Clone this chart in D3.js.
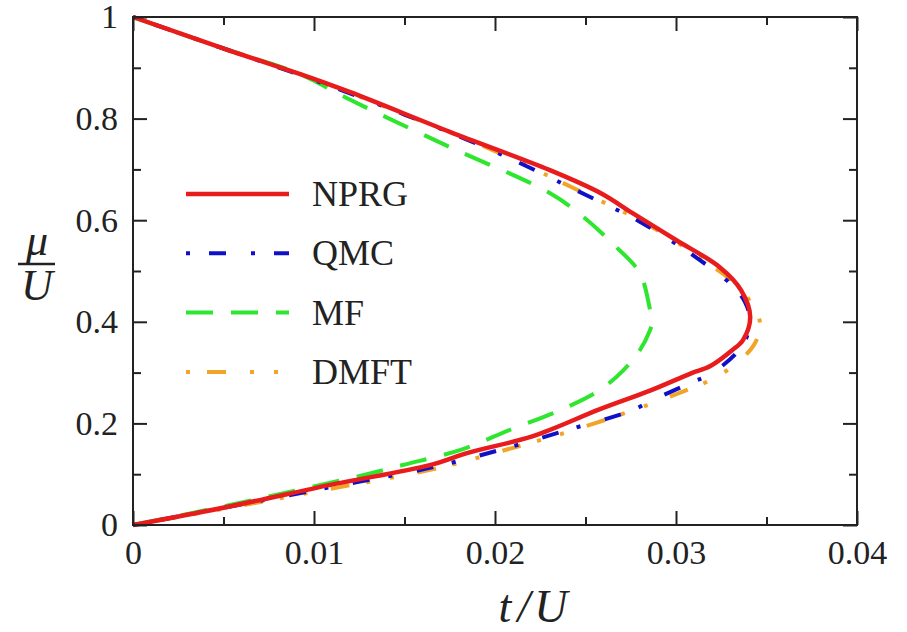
<!DOCTYPE html>
<html>
<head>
<meta charset="utf-8">
<script src="https://cdn.jsdelivr.net/npm/d3@7"></script>
<style>
  body { margin: 0; background: #fff; }
</style>
</head>
<body>
<svg id="chart" width="907" height="632"></svg>
<script>
// phase boundary data (t/U, mu/U)
let nprgT  = [0, 0.0055, 0.0092, 0.012, 0.0175, 0.023, 0.0258, 0.0276, 0.0300, 0.0324, 0.0336, 0.0341, 0.0337, 0.0331, 0.0319, 0.0308, 0.0286, 0.0258, 0.0221, 0.0185, 0.0164, 0.0109, 0.0054, 0];
let nprgMu = [1, 0.932, 0.888, 0.852, 0.774, 0.699, 0.654, 0.614, 0.561, 0.508, 0.462, 0.41, 0.364, 0.344, 0.313, 0.298, 0.265, 0.228, 0.175, 0.142, 0.118, 0.079, 0.037, 0];

let qmcT  = [0, 0.005, 0.01, 0.015, 0.02, 0.025, 0.028, 0.0313, 0.033, 0.0338, 0.0341, 0.0336, 0.032, 0.0309, 0.0287, 0.0276, 0.024, 0.0203, 0.0166, 0.011, 0.005, 0];
let qmcMu = [1, 0.938, 0.876, 0.808, 0.735, 0.65, 0.597, 0.522, 0.475, 0.44, 0.398, 0.35, 0.299, 0.281, 0.246, 0.226, 0.187, 0.148, 0.114, 0.075, 0.034, 0];

let mfT  = [0, 0.005, 0.0092, 0.012, 0.0175, 0.023, 0.0249, 0.0267, 0.028, 0.02857, 0.0287, 0.02857, 0.028, 0.0271, 0.0258, 0.0236, 0.0208, 0.0181, 0.0149, 0.0127, 0.008, 0.004, 0];
let mfMu = [1, 0.938, 0.888, 0.837, 0.744, 0.654, 0.606, 0.547, 0.496, 0.423, 0.4, 0.384, 0.344, 0.305, 0.266, 0.226, 0.187, 0.148, 0.118, 0.098, 0.06, 0.029, 0];

let dmftT  = [0, 0.005, 0.01, 0.015, 0.02, 0.025, 0.028, 0.0313, 0.0335, 0.0341, 0.03464, 0.0343, 0.0326, 0.0302, 0.0249, 0.0203, 0.0166, 0.011, 0.005, 0];
let dmftMu = [1, 0.938, 0.878, 0.808, 0.736, 0.652, 0.6, 0.527, 0.468, 0.439, 0.398, 0.354, 0.299, 0.26, 0.193, 0.145, 0.11, 0.072, 0.032, 0];

let legendNames = ["NPRG", "QMC", "MF", "DMFT"];
let xTicks = [0, 0.01, 0.02, 0.03, 0.04];
let xMinor = [0.005, 0.015, 0.025, 0.035];
let yTicks = [0, 0.2, 0.4, 0.6, 0.8, 1];
let yMinor = [0.1, 0.3, 0.5, 0.7, 0.9];

let serif = "'Liberation Serif', 'DejaVu Serif', 'Times New Roman', serif";

let margin = {top: 17, right: 50, bottom: 107, left: 133}
  , width = 907 - margin.left - margin.right
  , height = 632 - margin.top - margin.bottom;

let xScale = d3.scaleLinear().domain([0, 0.04]).range([0, width]);
let yScale = d3.scaleLinear().domain([0, 1]).range([height, 0]);

let svg = d3.select("#chart")
  .append("g")
    .attr("transform", "translate(" + margin.left + "," + margin.top + ")");

let series = [
  {name: "NPRG", t: nprgT, mu: nprgMu, color: "#e81c1c", dash: null, w: 4.5},
  {name: "QMC",  t: qmcT,  mu: qmcMu,  color: "#1010c8", dash: "4,19,17,25", w: 4},
  {name: "MF",   t: mfT,   mu: mfMu,   color: "#2ee62e", dash: "27,18", w: 4},
  {name: "DMFT", t: dmftT, mu: dmftMu, color: "#f0a428", dash: "4,17,19,24,4,20", w: 4}
];

let line = d3.line()
    .x(function(d) { return xScale(d[0]); })
    .y(function(d) { return yScale(d[1]); })
    .curve(d3.curveCatmullRom.alpha(0.5));

// draw back to front so red ends on top
[series[3], series[2], series[1], series[0]].forEach(function(s) {
  svg.append("path")
      .datum(s.t.map(function(v, i) { return [v, s.mu[i]]; }))
      .attr("fill", "none")
      .attr("stroke", s.color)
      .attr("stroke-width", s.w)
      .attr("stroke-dasharray", s.dash)
      .attr("d", line);
});

// axes with inward ticks on all four sides
function styleAxis(g) {
  g.attr("font-family", serif);
  g.select(".domain").remove();
  g.selectAll(".tick line").attr("stroke", "#222").attr("stroke-width", 2);
  g.selectAll(".tick text")
      .style("font-family", serif)
      .style("font-size", "34px")
      .style("fill", "#222");
}
let fmt = function(d) { return d === 0 ? "0" : d3.format("")(+d.toFixed(2)); };

svg.append("g")
    .attr("transform", "translate(0," + height + ")")
    .call(d3.axisBottom(xScale).tickValues(xTicks).tickSize(-14).tickPadding(15).tickFormat(fmt))
    .call(styleAxis);
svg.append("g")
    .attr("transform", "translate(0," + height + ")")
    .call(d3.axisBottom(xScale).tickValues(xMinor).tickSize(-8).tickFormat(""))
    .call(styleAxis);
svg.append("g")
    .call(d3.axisTop(xScale).tickValues(xTicks).tickSize(-14).tickFormat(""))
    .call(styleAxis);
svg.append("g")
    .call(d3.axisTop(xScale).tickValues(xMinor).tickSize(-8).tickFormat(""))
    .call(styleAxis);

svg.append("g")
    .call(d3.axisLeft(yScale).tickValues(yTicks).tickSize(-14).tickPadding(15).tickFormat(fmt))
    .call(styleAxis);
svg.append("g")
    .call(d3.axisLeft(yScale).tickValues(yMinor).tickSize(-8).tickFormat(""))
    .call(styleAxis);
svg.append("g")
    .attr("transform", "translate(" + width + ",0)")
    .call(d3.axisRight(yScale).tickValues(yTicks).tickSize(-14).tickFormat(""))
    .call(styleAxis);
svg.append("g")
    .attr("transform", "translate(" + width + ",0)")
    .call(d3.axisRight(yScale).tickValues(yMinor).tickSize(-8).tickFormat(""))
    .call(styleAxis);

svg.append("rect")
    .attr("width", width)
    .attr("height", height)
    .attr("fill", "none")
    .attr("stroke", "#222")
    .attr("stroke-width", 2);

// axis labels
let xl = svg.append("text")
    .attr("x", 400)
    .attr("y", 605)
    .attr("text-anchor", "middle")
    .style("font-family", serif)
    .style("font-size", "46px")
    .style("font-style", "italic")
    .style("fill", "#222");
xl.append("tspan").text("t");
xl.append("tspan").attr("dx", 6).text("/");
xl.append("tspan").attr("dx", 4).text("U");

svg.append("text")
    .attr("x", -96)
    .attr("y", 238)
    .attr("text-anchor", "middle")
    .style("font-family", serif)
    .style("font-size", "44px")
    .style("font-style", "italic")
    .style("fill", "#222")
    .text("μ");
svg.append("line")
    .attr("x1", -115).attr("x2", -78)
    .attr("y1", 247).attr("y2", 247)
    .attr("stroke", "#222").attr("stroke-width", 2.5);
svg.append("text")
    .attr("x", -96)
    .attr("y", 283)
    .attr("text-anchor", "middle")
    .style("font-family", serif)
    .style("font-size", "44px")
    .style("font-style", "italic")
    .style("fill", "#222")
    .text("U");

// legend
let legend = svg.append("g").attr("transform", "translate(53,177)");
series.forEach(function(s, i) {
  let g = legend.append("g").attr("transform", "translate(0," + (i * 59.3) + ")");
  g.append("line")
      .attr("x1", 0).attr("x2", 103)
      .attr("stroke", s.color)
      .attr("stroke-width", s.w)
      .attr("stroke-dasharray", s.dash);
  g.append("text")
      .attr("x", 126)
      .attr("y", 12)
      .style("font-family", serif)
      .style("font-size", "36px")
      .style("fill", "#222")
      .text(legendNames[i]);
});
</script>
</body>
</html>
